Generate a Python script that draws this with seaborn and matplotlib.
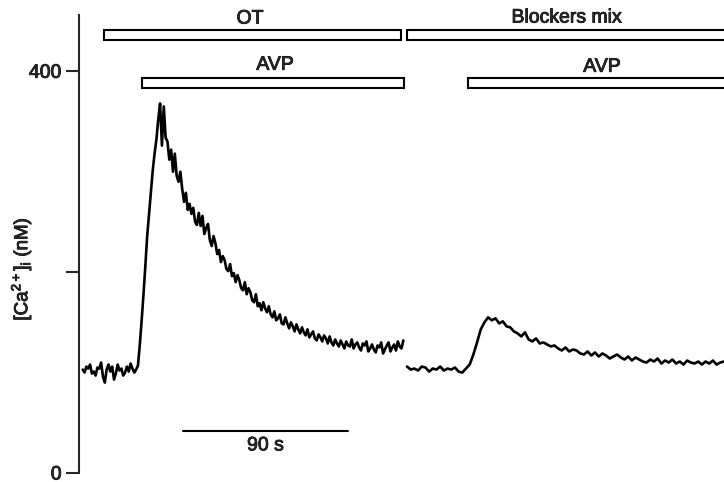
import numpy as np
import pandas as pd
import matplotlib
matplotlib.use("Agg")
import matplotlib.pyplot as plt
import matplotlib.patheffects as pe
from matplotlib.patches import Rectangle
import seaborn as sns

## Trace data (time in s, [Ca2+]i in nM)

# first recording: OT then AVP, sampled every 1 s
t_first = np.arange(2, 177, 1)
ca_first = [
    103, 100, 106, 104, 108, 99, 101, 97, 105, 104,
    110, 96, 90, 103, 108, 101, 106, 93, 99, 108,
    102, 104, 97, 100, 106, 101, 109, 104, 100, 103,
    107, 128, 152, 178, 206, 236, 258, 281, 301, 318,
    332, 352, 368, 326, 365, 334, 330, 312, 322, 300,
    318, 296, 290, 300, 283, 270, 279, 262, 268, 258,
    264, 250, 247, 259, 246, 256, 238, 244, 248, 232,
    226, 236, 229, 218, 222, 210, 216, 212, 203, 201,
    208, 196, 199, 190, 197, 192, 184, 182, 190, 178,
    184, 180, 172, 170, 178, 166, 169, 162, 170, 164,
    160, 166, 158, 155, 161, 152, 154, 158, 149, 148,
    155, 149, 144, 150, 146, 141, 148, 143, 139, 145,
    140, 137, 143, 135, 138, 141, 134, 132, 138, 135,
    131, 137, 134, 129, 136, 130, 127, 133, 129, 126,
    132, 128, 124, 131, 127, 126, 133, 124, 128, 130,
    125, 122, 129, 127, 131, 121, 124, 128, 123, 120,
    127, 125, 130, 119, 123, 127, 130, 121, 125, 128,
    122, 131, 126, 124, 132,
]

# second recording: blockers mix then AVP, sampled every 2 s
t_second = np.arange(178, 351, 2)
ca_second = [
    106, 103, 104, 102, 106, 105, 101, 104, 103, 106,
    102, 104, 103, 105, 101, 100, 104, 108, 118, 130,
    143, 150, 155, 152, 154, 149, 151, 146, 145, 141,
    139, 136, 140, 133, 131, 134, 129, 130, 128, 126,
    127, 124, 122, 125, 121, 123, 122, 119, 118, 121,
    117, 120, 116, 119, 117, 114, 116, 118, 115, 113,
    116, 112, 115, 113, 111, 110, 113, 111, 114, 109,
    112, 110, 113, 109, 111, 108, 112, 110, 109, 111,
    108, 111, 109, 112, 108, 110, 111,
]

## Application bars (label, start, end, bottom, top, label x, label y)

bar_labels = ["OT", "AVP", "Blockers mix", "AVP"]
bar_starts = [13.6, 34.2, 178.0, 211.1]
bar_ends = [174.7, 176.4, 380.0, 380.0]
bar_bottoms = [431, 383, 431, 383]
bar_tops = [441, 393, 441, 393]
label_x = [92.8, 106.4, 264.8, 283.8]
label_y = [452, 406, 453, 404]

yticks = [0, 200, 400]
ytick_labels = ["0", "", "400"]

scale_start, scale_end, scale_y = 56.4, 146.0, 42
scale_label = "90 s"

## Style

sns.set_style("ticks")
plt.rcParams["font.family"] = ["Liberation Sans", "DejaVu Sans"]
plt.rcParams["mathtext.default"] = "regular"

ink = [pe.withStroke(linewidth=0.6, foreground="black")]

fig = plt.figure(figsize=(7.24, 4.82), dpi=100)
ax = fig.add_axes([79 / 724, 9 / 482, 1 - 79 / 724, 468 / 482])

df1 = pd.DataFrame({"t": t_first, "ca": ca_first})
df2 = pd.DataFrame({"t": t_second, "ca": ca_second})
sns.lineplot(data=df1, x="t", y="ca", color="black", lw=1.9, ax=ax)
sns.lineplot(data=df2, x="t", y="ca", color="black", lw=1.9, ax=ax)

# drug application bars
for lab, s, e, b, tp, lx, ly in zip(bar_labels, bar_starts, bar_ends,
                                    bar_bottoms, bar_tops, label_x, label_y):
    ax.add_patch(Rectangle((s, b), e - s, tp - b, facecolor="white",
                           edgecolor="black", lw=1.5, clip_on=True))
    ax.text(lx, ly, lab, ha="center", va="center", fontsize=14,
            path_effects=ink)

# time scale bar
ax.plot([scale_start, scale_end], [scale_y, scale_y], color="black", lw=1.5)
ax.text((scale_start + scale_end) / 2, scale_y - 15, scale_label,
        ha="center", va="center", fontsize=14, path_effects=ink)

ax.set_xlim(0, 350)
ax.set_ylim(0, 466)
ax.set_yticks(yticks)
ax.set_yticklabels(ytick_labels, fontsize=14, path_effects=ink)
ax.tick_params(axis="y", length=9.5, width=1.5, pad=3)
ax.set_xticks([])
ax.set_xlabel("")
ax.set_ylabel("[Ca$^{2+}$]$_i$ (nM)", fontsize=13.5, path_effects=ink)
ax.yaxis.set_label_coords(-0.071, 0.436)

for side in ["top", "right", "bottom"]:
    ax.spines[side].set_visible(False)
ax.spines["left"].set_linewidth(1.5)
ax.spines["left"].set_bounds(0, 456)

fig.savefig("out.png", dpi=100)
